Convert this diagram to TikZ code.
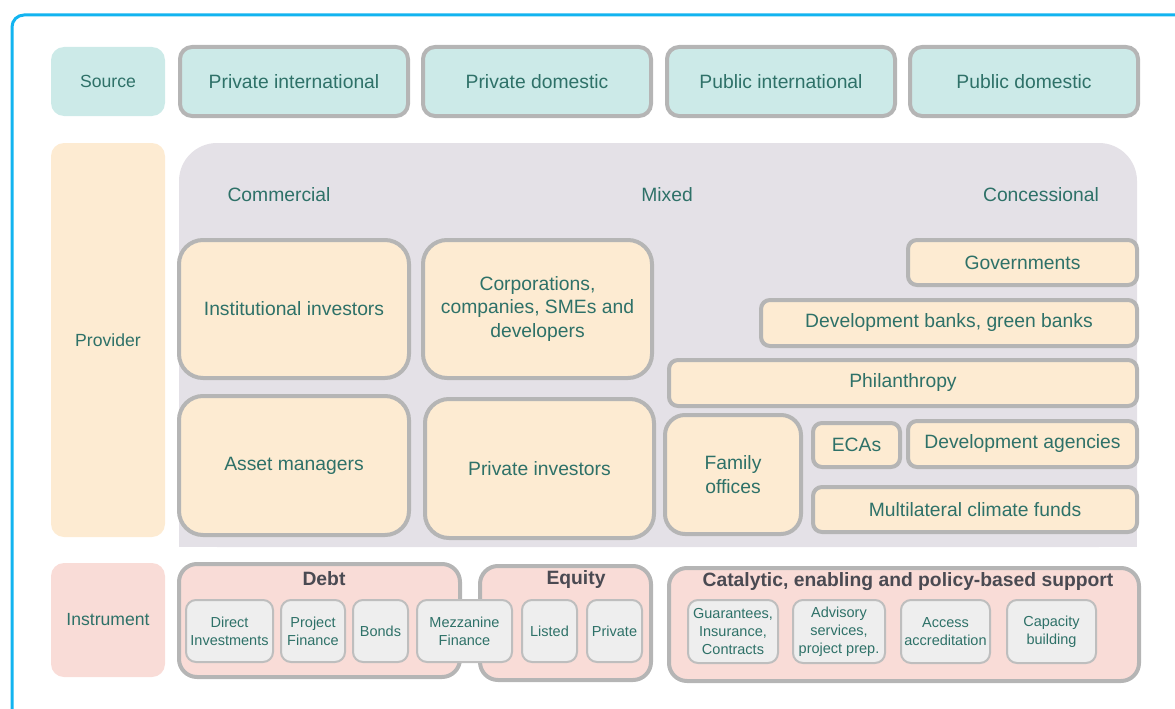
\documentclass[tikz,border=0pt]{standalone}
\usepackage{fontspec}
\setmainfont{Liberation Sans}
\definecolor{txt}{HTML}{2E7168}
\definecolor{head}{HTML}{4A4A52}
\definecolor{edge}{HTML}{B5B5B5}
\definecolor{subedge}{HTML}{BEBEBE}
\definecolor{srcfill}{HTML}{CCEAE8}
\definecolor{provfill}{HTML}{FDEBD2}
\definecolor{instfill}{HTML}{F9DCD7}
\definecolor{bandfill}{HTML}{E4E1E7}
\definecolor{subfill}{HTML}{EEEEEE}
\definecolor{frameblue}{HTML}{12B4F0}
\newcommand{\mainsize}{\fontsize{19.3}{23.5}\selectfont}
\newcommand{\labsize}{\fontsize{17.6}{21}\selectfont}
\newcommand{\subsize}{\fontsize{14.5}{17.8}\selectfont}
\begin{document}
\begin{tikzpicture}[x=1pt,y=-1pt,
  every node/.style={inner sep=0pt, outer sep=0pt, text=txt, align=center},
  rowlabel/.style={rounded corners=13, minimum width=114, font=\labsize},
  srcbox/.style={draw=edge, line width=4, fill=srcfill, rounded corners=12,
                 minimum width=228, minimum height=69, font=\mainsize},
  bigbox/.style={draw=edge, line width=4, fill=provfill, rounded corners=24, font=\mainsize},
  barbox/.style={draw=edge, line width=4, fill=provfill, rounded corners=9, font=\mainsize},
  groupbox/.style={draw=edge, line width=4, fill=instfill, rounded corners=18},
  subbox/.style={draw=subedge, line width=2, fill=subfill, rounded corners=10,
                 minimum height=62, font=\subsize},
  grouphead/.style={text=head, font=\mainsize\bfseries},
  category/.style={font=\mainsize}]
\useasboundingbox (0,0) rectangle (1175,709);
\clip (0,0) rectangle (1175,709);

% outer frame, running off the right and bottom edges
\draw[frameblue, line width=3, rounded corners=12] (12,730) -- (12,15) -- (1200,15);

% row labels
\node[rowlabel, fill=srcfill,  minimum height=69]  (lsrc)  at (108,81.5) {Source};
\node[rowlabel, fill=provfill, minimum height=394] (lprov) at (108,340)  {Provider};
\node[rowlabel, fill=instfill, minimum height=114] (linst) at (108,620)  {Instrument};

% sources
\node[srcbox] (privint) at (294,81.5)  {Private international};
\node[srcbox] (privdom) at (537,81.5)  {Private domestic};
\node[srcbox] (pubint)  at (781,81.5)  {Public international};
\node[srcbox] (pubdom)  at (1024,81.5) {Public domestic};

% provider band: rounded on top, square at the bottom
\fill[bandfill, rounded corners=38] (179,143) rectangle (1137,547);
\fill[bandfill] (179,500) rectangle (1137,547);

\node[category] (commercial)   at (279,195)  {Commercial};
\node[category] (mixed)        at (667,195)  {Mixed};
\node[category] (concessional) at (1041,195) {Concessional};

% providers
\node[bigbox, minimum width=230, minimum height=138] (inst)   at (294,309)     {Institutional investors};
\node[bigbox, minimum width=229, minimum height=138] (corp)   at (537.5,309)   {Corporations,\\companies, SMEs and\\developers};
\node[bigbox, minimum width=230, minimum height=139] (asset)  at (294,465.5)   {Asset managers};
\node[bigbox, minimum width=229, minimum height=139] (privinv) at (539.5,468.5) {Private investors};
\node[bigbox, rounded corners=20, minimum width=136, minimum height=119] (family) at (733,474.5) {Family\\offices};

\node[barbox, minimum width=229, minimum height=45] (gov)     at (1022.5,262.5) {Governments};
\node[barbox, minimum width=376, minimum height=46] (devbank) at (949,323)      {Development banks, green banks};
\node[barbox, minimum width=468, minimum height=46] (phil)    at (903,383)      {Philanthropy};
\node[barbox, minimum width=87,  minimum height=44] (eca)     at (856.5,445)    {ECAs};
\node[barbox, minimum width=229, minimum height=46] (devag)   at (1022.5,444)   {Development agencies};
\node[barbox, minimum width=324, minimum height=45] (mcf)     at (975,509.5)    {Multilateral climate funds};

% instrument groups
\node[groupbox, minimum width=281, minimum height=113] (debt)   at (319.5,620.5) {};
\node[groupbox, minimum width=171, minimum height=114] (equity) at (565.5,623)   {};
\node[groupbox, minimum width=470, minimum height=113] (cat)    at (904,624.5)   {};

\node[grouphead] (debthead)   at (324,579) {Debt};
\node[grouphead] (equityhead) at (576,580) {Equity};
\node[grouphead] (cathead)    at (908,582) {Catalytic, enabling and policy-based support};

% instruments
\node[subbox, minimum width=87] (direct)  at (229.5,631) {Direct\\Investments};
\node[subbox, minimum width=64] (project) at (313,631)   {Project\\Finance};
\node[subbox, minimum width=55] (bonds)   at (380.5,631) {Bonds};
\node[subbox, minimum width=95] (mezz)    at (464.5,631) {Mezzanine\\Finance};
\node[subbox, minimum width=55] (listed)  at (549.5,631) {Listed};
\node[subbox, minimum width=55] (private) at (614.5,631) {Private};

\node[subbox, minimum width=90, minimum height=63] (guar)     at (733,631.5)    {Guarantees,\\Insurance,\\Contracts};
\node[subbox, minimum width=92, minimum height=63] (advisory) at (839,631.5)    {Advisory\\services,\\project prep.};
\node[subbox, minimum width=89, minimum height=63] (access)   at (945.5,631.5)  {Access\\accreditation};
\node[subbox, minimum width=89, minimum height=63] (capacity) at (1051.5,631.5) {Capacity\\building};
\end{tikzpicture}
\end{document}
